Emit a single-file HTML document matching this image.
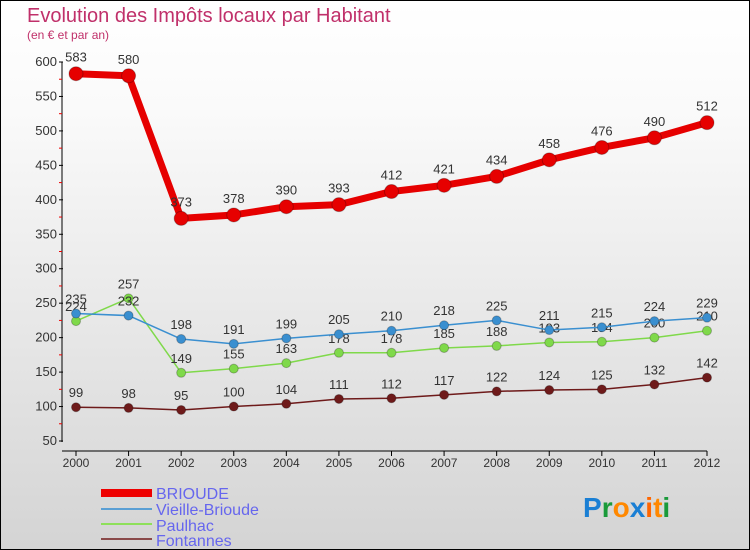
<!DOCTYPE html>
<html><head><meta charset="utf-8"><style>
body{margin:0}
#c{position:relative;width:748px;height:548px;border:1px solid #000;background:linear-gradient(#fff,#fafafa 20%,#d4d4d4);overflow:hidden;font-family:"Liberation Sans",sans-serif}
</style></head><body>
<div id="c">
<svg id="s" width="748" height="548" xmlns="http://www.w3.org/2000/svg">
<text x="26" y="21" font-size="20" fill="#c0306a">Evolution des Impôts locaux par Habitant</text>
<text x="26" y="38" font-size="12" fill="#c0306a">(en € et par an)</text>
<g id="axes"></g><g id="series"></g>
<g>
<rect x="100" y="488" width="51" height="8" fill="#e00"/>
<text x="155" y="498" font-size="16" fill="#6666ee">BRIOUDE</text>
<rect x="100" y="507" width="51" height="2" fill="#5a9fd4"/>
<text x="155" y="514" font-size="16" fill="#6666ee">Vieille-Brioude</text>
<rect x="100" y="522" width="51" height="2" fill="#8ee05a"/>
<text x="155" y="530" font-size="16" fill="#6666ee">Paulhac</text>
<rect x="100" y="537" width="51" height="2" fill="#8a4a4a"/>
<text x="155" y="545" font-size="16" fill="#6666ee">Fontannes</text>
</g>
<g font-size="28" font-weight="bold" font-family="Liberation Sans, sans-serif">
<text x="582" y="516"><tspan fill="#1a7fd4">P</tspan><tspan fill="#1a9a3a">r</tspan><tspan fill="#ff8800">o</tspan><tspan fill="#1a7fd4">x</tspan><tspan fill="#ff6600">i</tspan><tspan fill="#ff8800">t</tspan><tspan fill="#1a9a3a">i</tspan></text>
</g>
</svg>
</div>
<script>
const years=["2000","2001","2002","2003","2004","2005","2006","2007","2008","2009","2010","2011","2012"];
const yTicks=[50,100,150,200,250,300,350,400,450,500,550,600];
const brioude=[583,580,373,378,390,393,412,421,434,458,476,490,512];
const vieille=[235,232,198,191,199,205,210,218,225,211,215,224,229];
const paulhac=[224,257,149,155,163,178,178,185,188,193,194,200,210];
const fontannes=[99,98,95,100,104,111,112,117,122,124,125,132,142];
const NS="http://www.w3.org/2000/svg";
function X(i){return 75+i*(706-75)/(years.length-1);}
function Y(v){return 61+(600-v)*379/550;}
function mk(tag,attrs,parent){const e=document.createElementNS(NS,tag);for(const k in attrs)e.setAttribute(k,attrs[k]);parent.appendChild(e);return e;}
const ax=document.getElementById('axes'),sg=document.getElementById('series');
let l=mk('line',{x1:61,y1:61,x2:61,y2:441,stroke:'#000'},ax);


l=mk('line',{x1:61,y1:450,x2:706,y2:450,stroke:'#000'},ax);


yTicks.forEach(v=>{const y=Y(v);
 mk('line',{x1:58,y1:y,x2:62,y2:y,stroke:'#000'},ax);
 if(v<600)mk('line',{x1:58,y1:Y(v+25),x2:61,y2:Y(v+25),stroke:'#e00'},ax);
 const t=mk('text',{x:56,y:y+4,'font-size':13,fill:'#333','text-anchor':'end'},ax);t.textContent=v;
 
 });
years.forEach((yr,i)=>{mk('line',{x1:X(i),y1:450,x2:X(i),y2:455,stroke:'#000'},ax);
 const t=mk('text',{x:X(i),y:466,'font-size':12,fill:'#333','text-anchor':'middle'},ax);t.textContent=yr;
 
 });
function draw(vals,color,w,r,name,dy){
 const p=mk('polyline',{points:vals.map((v,i)=>X(i)+','+Y(v)).join(' '),fill:'none',stroke:color,'stroke-width':w,'stroke-linejoin':'round'},sg);
 
 
 vals.forEach((v,i)=>{const c=mk('circle',{cx:X(i),cy:Y(v),r:r,fill:color,stroke:'rgba(0,0,0,0.25)','stroke-width':1},sg);
  
  
  const t=mk('text',{x:X(i),y:Y(v)-dy,'font-size':13,fill:'#333','text-anchor':'middle'},sg);t.textContent=v;
  
  });
}
draw(fontannes,'#6e1a1a',1.5,4.5,'fontannes',10);
draw(paulhac,'#7fd94a',1.5,4.5,'paulhac',10);
draw(vieille,'#3a8fd0',1.5,4.5,'vieille-brioude',10);
draw(brioude,'#e60000',7,7,'brioude',12);
</script>
</body></html>
